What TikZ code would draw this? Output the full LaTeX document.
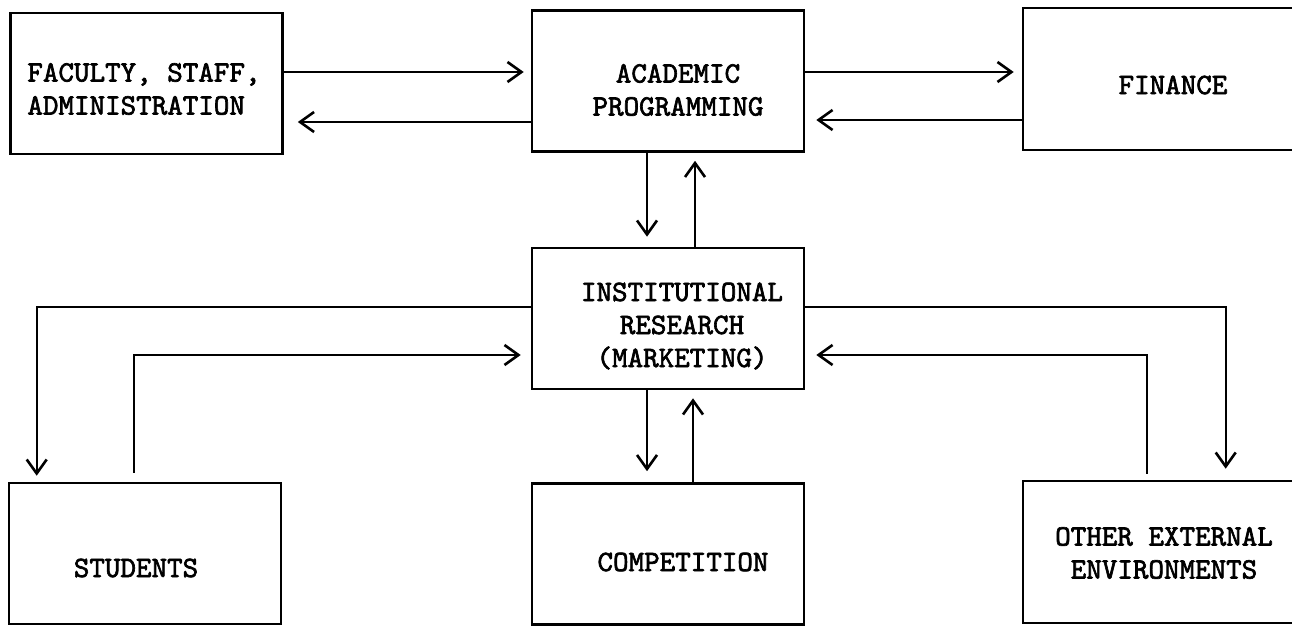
\documentclass[tikz,border=0pt]{standalone}
\usepackage{fontspec}
\newfontfamily\typewfont{lmmono10-regular.otf}[FakeBold=2.2]
\usetikzlibrary{arrows.meta,calc}

\begin{document}
\begin{tikzpicture}[x=0.5pt, y=-0.5pt,
		blk/.style={draw, line width=1.3pt, inner sep=0pt, minimum width=136pt, minimum height=70.5pt},
		wideblk/.style={blk, minimum width=148.5pt, minimum height=71pt},
		txt/.style={font=\typewfont\fontsize{14.8}{16.5}\selectfont, align=center, inner sep=0pt},
		flow/.style={line width=1pt, -{Straight Barb[length=7pt, width=10pt, line width=1.3pt]}, shorten >=4.5pt}]
			\path[use as bounding box, clip] (0,0) rectangle (1292,626);
			
			\node[blk] (fac) at (146.5,83.5) {};
			\node[blk] (acad) at (668,81) {};
			\node[wideblk] (fin) at (1171.5,79) {};
			\node[blk] (inst) at (668,318.5) {};
			\node[blk] (stud) at (145,553.5) {};
			\node[blk] (comp) at (668,554) {};
			\node[wideblk] (oth) at (1171.5,552) {};
			
			\node[txt, anchor=west, align=left] (fac-t) at (27,89) {FACULTY, STAFF,\\ADMINISTRATION};
			\node[txt] (acad-t) at (678,90) {ACADEMIC\\PROGRAMMING};
			\node[txt] (fin-t) at (1173,85) {FINANCE};
			\node[txt] (inst-t) at (682,326) {INSTITUTIONAL\\RESEARCH\\(MARKETING)};
			\node[txt] (stud-t) at (136,568) {STUDENTS};
			\node[txt] (comp-t) at (683,562) {COMPETITION};
			\node[txt] (oth-t) at (1164,553) {OTHER EXTERNAL\\ENVIRONMENTS};
			
			\draw[flow, shorten >=3.5pt] (fac.east |- 0,72) -- (acad.west |- 0,72);
			\draw[flow, shorten >=7pt] (acad.west |- 0,122) -- (fac.east |- 0,122);
			\draw[flow, shorten >=4pt] (acad.east |- 0,72) -- (fin.west |- 0,72);
			\draw[flow, shorten >=5.5pt] (fin.west |- 0,120) -- (acad.east |- 0,120);
			
			\draw[flow, shorten >=5pt] (acad.south -| 647,0) -- (inst.north -| 647,0);
			\draw[flow, shorten >=4pt] (inst.north -| 695,0) -- (acad.south -| 695,0);
			\draw[flow, shorten >=5.5pt] (inst.south -| 647,0) -- (comp.north -| 647,0);
			\draw[flow, shorten >=4pt] (comp.north -| 693,0) -- (inst.south -| 693,0);
			
			\draw[flow, shorten >=3pt] (inst.west |- 0,307) -| ($(stud.north west)+(29,0)$);
			\draw[flow, shorten >=5pt] ($(stud.north west)+(126,-9)$) |- (inst.west |- 0,355);
			\draw[flow, shorten >=5.5pt] (inst.east |- 0,307) -| ($(oth.north west)+(204,0)$);
			\draw[flow, shorten >=5.5pt] ($(oth.north west)+(125,-6)$) |- (inst.east |- 0,355);
		\end{tikzpicture}
\end{document}
